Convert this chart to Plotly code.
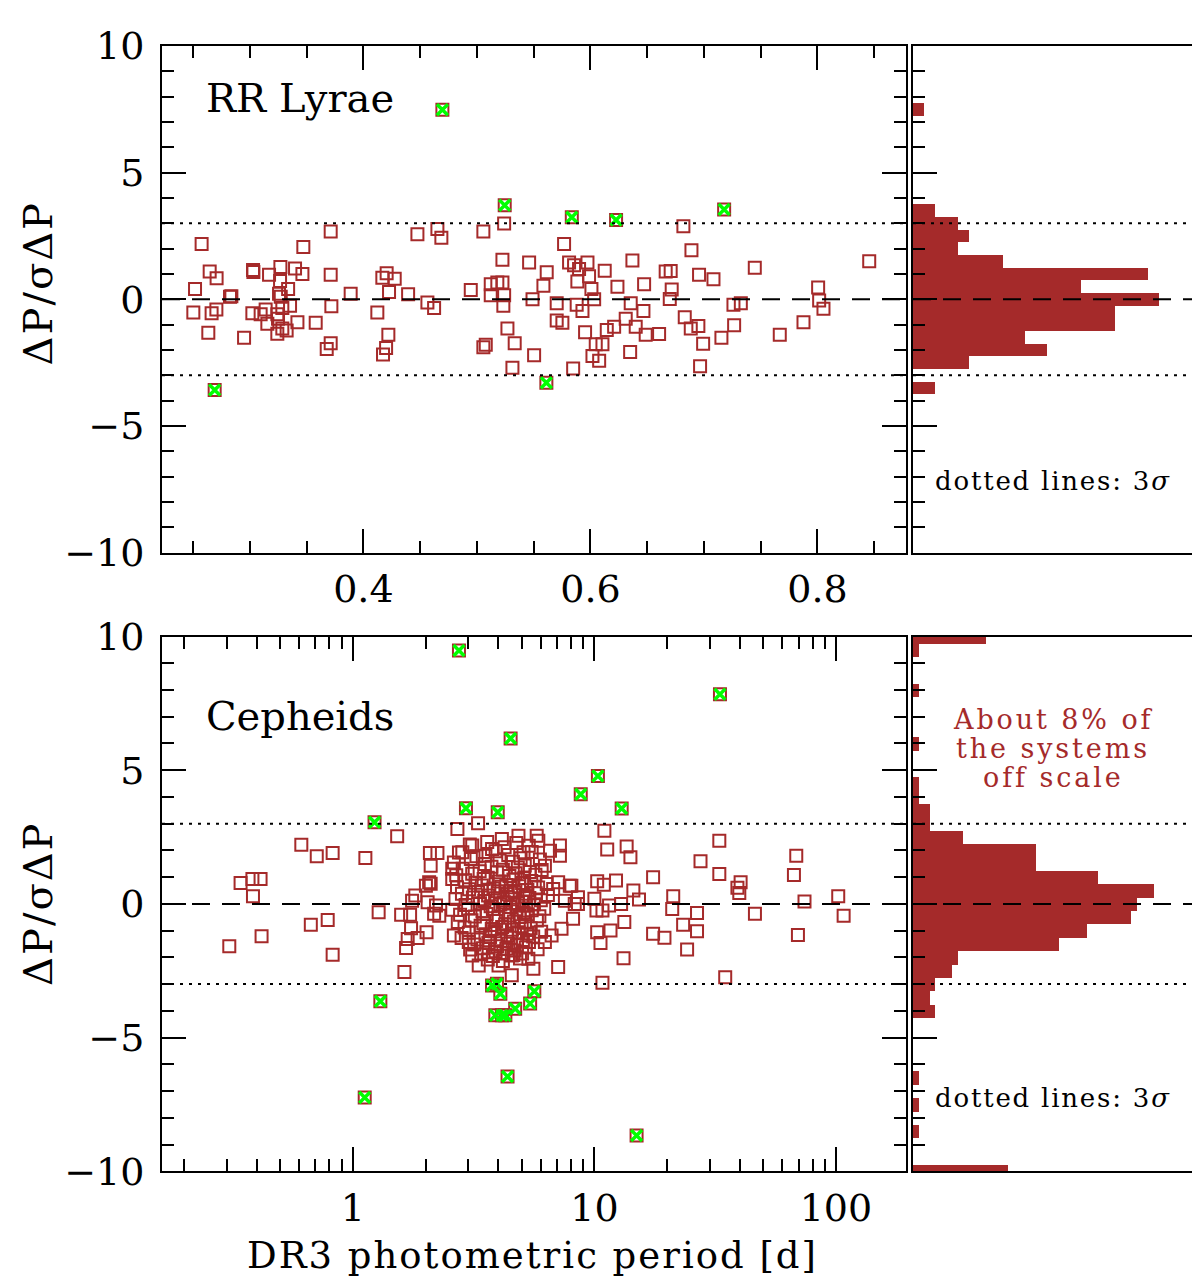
import plotly.graph_objects as go

# ---------------- data ----------------
# RR Lyrae: period [d], dP/sigma(dP)
rr_period = [
    0.2575, 0.2646, 0.2707, 0.2517, 0.2837, 0.2825, 0.2502, 0.2663, 0.2705, 0.2634,
    0.2949, 0.3028, 0.3031, 0.3169, 0.3269, 0.3266, 0.3398, 0.3463, 0.3337, 0.3257,
    0.3272, 0.3354, 0.3286, 0.3022, 0.3095, 0.3139, 0.3154, 0.3242, 0.3248, 0.3286,
    0.3242, 0.3324, 0.3419, 0.3580, 0.3712, 0.3471, 0.3712, 0.3718, 0.3677, 0.3712,
    0.3888, 0.4123, 0.4205, 0.4167, 0.4276, 0.4226, 0.4394, 0.4564, 0.4623, 0.4220,
    0.4200, 0.4173, 0.4476, 0.4652, 0.4687, 0.4946, 0.5057, 0.5240, 0.5225, 0.5460,
    0.5122, 0.5180, 0.5225, 0.5122, 0.5240, 0.5233, 0.5490, 0.5269, 0.5333, 0.5057,
    0.5078, 0.5313, 0.5504, 0.5615, 0.5586, 0.5768, 0.5812, 0.5856, 0.5974, 0.5900,
    0.5988, 0.5885, 0.6009, 0.6126, 0.6238, 0.6370, 0.6473, 0.5703, 0.5879, 0.5930,
    0.6033, 0.5703, 0.5753, 0.5953, 0.6144, 0.6209, 0.6311, 0.6355, 0.6467, 0.6399,
    0.6047, 0.6106, 0.6018, 0.6077, 0.6350, 0.5848, 0.6487, 0.6605, 0.6819, 0.6890,
    0.6663, 0.6707, 0.6957, 0.7084, 0.6716, 0.6699, 0.6831, 0.6884, 0.6951, 0.6993,
    0.7154, 0.7266, 0.6966, 0.7260, 0.7325, 0.7448, 0.7668, 0.7877, 0.8006, 0.8015,
    0.8053, 0.8456,
]
rr_dp = [
    2.18, 1.10, 0.83, 0.41, 0.12, 0.10, -0.52, -0.55, -0.40, -1.32,
    -1.52, 1.16, 1.08, 0.97, 1.28, 0.72, 1.22, 1.00, 0.41, 0.22,
    0.10, -0.25, -0.34, -0.55, -0.59, -0.40, -0.96, -0.59, -0.77, -1.15,
    -1.36, -1.23, -0.90, -0.92, 2.68, 2.07, 0.97, -0.27, -1.96, -1.73,
    0.22, -0.52, 1.03, 0.85, 0.81, 0.29, 0.20, -0.12, -0.34, -1.40,
    -1.92, -2.18, 2.57, 2.78, 2.43, 0.37, 2.68, 2.99, 1.56, 1.45,
    0.60, 0.66, 0.66, 0.16, 0.16, -0.25, 0.00, -1.15, -1.73, -1.89,
    -1.79, -2.70, -2.21, 1.07, 0.54, 2.18, 1.45, 1.35, 1.45, 1.20,
    0.91, 0.70, 0.41, 1.13, 0.50, 1.53, 0.60, -0.15, -0.21, -0.46,
    0.00, -0.83, -0.92, -1.30, -1.21, -1.08, -0.77, -0.15, -0.46, -1.08,
    -1.77, -1.77, -2.24, -2.42, -2.08, -2.73, -1.40, -1.37, 2.88, 1.94,
    1.10, 1.12, 0.97, 0.79, 0.39, 0.01, -0.71, -1.15, -1.05, -1.75,
    -1.52, -1.02, -2.64, -0.21, -0.15, 1.25, -1.40, -0.90, 0.47, -0.05,
    -0.37, 1.50,
]
rr_out_period = [0.4696, 0.5245, 0.5836, 0.6226, 0.7178, 0.2690, 0.5612]
rr_out_dp = [7.48, 3.71, 3.24, 3.13, 3.55, -3.58, -3.29]

rr_bins = [7.5, 3.5, 3.0, 2.5, 2.0, 1.5, 1.0, 0.5, 0.0, -0.5, -1.0, -1.5, -2.0, -2.5, -3.5]
rr_counts = [1, 2, 4, 5, 4, 8, 21, 15, 22, 18, 18, 10, 12, 5, 2]

# Cepheids, points outside the dense core
cep_period = [
    0.308, 0.343, 0.384, 0.415, 0.386, 0.419, 0.612, 0.709, 0.825, 1.127,
    1.526, 0.670, 0.787, 0.825, 1.279, 1.585, 1.726, 1.742, 1.687, 1.661,
    1.854, 2.019, 1.635, 1.759, 1.814, 2.007, 2.07, 2.085, 2.24, 2.10,
    2.04, 2.17, 2.71, 3.30, 2.10, 2.21, 2.58, 2.58, 3.12, 3.77,
    4.85, 5.77, 5.86, 7.2, 7.2, 7.91, 7.55, 8.29, 7.31, 7.08,
    5.59, 4.55, 3.32, 4.01, 2.28, 2.62, 3.02, 3.12, 3.65, 4.55,
    5.33, 6.24, 6.65, 7.08, 6.75, 6.24, 6.55, 4.14, 5.09, 3.54,
    2.84, 11.0, 11.3, 13.6, 14.1, 10.27, 10.94, 12.29, 14.5, 15.3,
    17.5, 21.2, 21.0, 8.03, 8.55, 8.55, 10.0, 10.2, 10.8, 11.5,
    12.9, 8.16, 10.27, 10.6, 11.66, 13.3, 13.2, 10.8, 17.5, 19.5,
    23.3, 26.6, 26.6, 24.2, 27.5, 32.9, 32.9, 39.1, 40.3, 39.8,
    46.2, 34.8, 68.5, 67.0, 74.1, 69.6, 102.2, 107.6,
]
cep_dp = [
    -1.58, 0.78, 0.93, 0.93, 0.29, -1.21, 2.21, 1.78, 1.90, 1.72,
    2.53, -0.78, -0.60, -1.90, -0.31, -0.41, -0.41, -0.91, -1.31, -1.65,
    -1.28, -1.06, -2.55, 0.12, 0.31, 0.68, 0.81, 1.90, 1.90, 1.43,
    0.06, -0.37, 2.80, 3.02, 0.75, -0.06, 1.31, 0.93, 2.18, 2.05,
    2.55, 2.55, 2.36, 2.18, 1.80, 0.68, 0.12, 0.00, -0.93, -2.36,
    -2.43, -2.67, -2.30, -2.30, -0.44, -1.18, -1.43, -1.93, -1.81, -1.93,
    -2.05, -1.43, -1.18, 0.81, 0.56, 1.43, 1.99, 2.43, 1.93, 1.80,
    1.93, 2.74, 2.03, 2.15, 1.74, 0.85, 0.72, 0.87, 0.50, 0.16,
    1.00, 0.29, -0.19, 0.68, 0.25, 0.00, 0.19, -0.25, -0.25, -0.06,
    0.00, -0.56, -1.06, -1.46, -1.00, -0.68, -2.03, -2.95, -1.12, -1.27,
    -0.78, -0.34, -1.02, -1.71, 1.59, 2.36, 1.12, 0.60, 0.81, 0.41,
    -0.37, -2.74, 1.80, 1.08, 0.09, -1.16, 0.29, -0.44,
]
# dense core around P ~ 3-6 d (estimated, too crowded to read one by one)
cep_core_period = [
    3.05, 3.6, 4.25, 4.75, 5.35,
    2.75, 3.25, 3.9, 4.4, 4.95, 5.5,
    2.62, 3.08, 3.52, 4.05, 4.6, 5.15, 5.95,
    2.85, 3.35, 3.75, 4.18, 4.82, 5.4, 6.05,
    2.68, 3.12, 3.62, 3.95, 4.45, 4.72, 5.12, 5.7,
    2.92, 3.22, 3.48, 4.02, 4.32, 4.62, 5.02, 5.48, 6.35,
    2.7, 3.03, 3.42, 3.82, 4.12, 4.52, 4.88, 5.28, 5.85,
    2.83, 3.3, 3.63, 3.98, 4.38, 4.68, 5.18, 5.72, 6.42,
    2.66, 3.14, 3.5, 3.88, 4.22, 4.58, 5.04, 5.38, 6.0,
    2.93, 3.36, 3.72, 4.08, 4.48, 4.83, 5.22, 5.62,
    2.58, 3.0, 3.44, 3.8, 4.3, 4.76, 5.1, 5.5, 6.2,
    2.78, 3.2, 3.58, 4.0, 4.42, 4.9, 5.3, 5.92,
    2.72, 3.1, 3.47, 3.92, 4.27, 4.64, 5.16, 5.78,
    2.9, 3.38, 3.76, 4.15, 4.56, 5.0, 5.45,
    3.02, 3.54, 3.86, 4.36, 4.86, 5.26, 6.02,
    2.82, 3.28, 3.7, 4.1, 4.5, 5.06, 5.58,
    3.18, 3.64, 3.96, 4.4, 4.78, 5.36,
    3.06, 3.46, 3.9, 4.32, 4.68, 5.2, 5.82,
    3.4, 3.8, 4.2, 4.62, 5.02,
    3.62, 4.18, 4.92,
]
cep_core_dp = [
    2.22, 2.31, 2.12, 2.28, 2.17,
    1.92, 1.78, 1.97, 1.83, 1.71, 1.94,
    1.55, 1.68, 1.49, 1.62, 1.58, 1.44, 1.66,
    1.31, 1.22, 1.39, 1.28, 1.36, 1.19, 1.27,
    1.07, 1.13, 0.98, 1.18, 1.04, 1.15, 0.96, 1.09,
    0.88, 0.79, 0.93, 0.84, 0.71, 0.91, 0.78, 0.86, 0.74,
    0.62, 0.55, 0.69, 0.58, 0.64, 0.49, 0.66, 0.52, 0.61,
    0.38, 0.44, 0.31, 0.47, 0.36, 0.42, 0.29, 0.40, 0.33,
    0.18, 0.24, 0.11, 0.21, 0.06, 0.17, 0.09, 0.22, 0.14,
    -0.04, 0.02, -0.09, -0.02, -0.12, 0.03, -0.07, -0.01,
    -0.22, -0.17, -0.28, -0.19, -0.31, -0.21, -0.33, -0.24, -0.18,
    -0.41, -0.47, -0.38, -0.52, -0.43, -0.49, -0.39, -0.46,
    -0.68, -0.61, -0.72, -0.64, -0.77, -0.66, -0.71, -0.62,
    -0.88, -0.82, -0.94, -0.86, -0.97, -0.84, -0.91,
    -1.08, -1.14, -1.02, -1.17, -1.06, -1.12, -1.04,
    -1.28, -1.33, -1.24, -1.38, -1.27, -1.35, -1.22,
    -1.52, -1.46, -1.58, -1.49, -1.55, -1.43,
    -1.71, -1.66, -1.77, -1.68, -1.74, -1.63, -1.70,
    -1.88, -1.95, -1.84, -1.91, -1.86,
    -2.08, -2.14, -2.04,
]
cep_out_period = [2.75, 33.1, 4.50, 10.34, 8.78, 2.94, 3.98, 12.97, 1.23, 1.30,
                  3.77, 3.95, 4.08, 3.89, 4.14, 4.28, 4.70, 5.42, 5.64, 1.12,
                  4.37, 14.95]
cep_out_dp = [9.48, 7.84, 6.19, 4.78, 4.10, 3.58, 3.43, 3.57, 3.05, -3.64,
              -3.05, -2.99, -3.36, -4.17, -4.17, -4.17, -3.92, -3.73, -3.27, -7.24,
              -6.46, -8.66]

cep_bins = [10.0, 9.5, 8.0, 6.0, 4.5, 4.0, 3.5, 3.0, 2.5, 2.0, 1.5, 1.0, 0.5, 0.0,
            -0.5, -1.0, -1.5, -2.0, -2.5, -3.0, -3.5, -4.0, -6.5, -7.5, -8.5, -10.0]
cep_counts = [13, 1, 1, 1, 1, 1, 3, 3, 9, 22, 22, 33, 43, 40,
              39, 31, 26, 8, 7, 4, 3, 4, 1, 1, 1, 17]

# ---------------- styling ----------------
BROWN = "#a52a2a"
FONT = "DejaVu Serif"
W, H = 1200, 1285


def px(x):
    # page x position (pixels) -> paper fraction (page is shifted ~8 px right)
    return (x - 8) / W


def py(y):
    # page y position (pixels) -> paper fraction (paper lands on rows 29..1273)
    return 1 - (y - 29) / 1244


x_scatter = [px(162), px(906)]
x_hist = [px(913), px(1193)]
y_top = [py(553), py(45)]
y_bot = [py(1173), py(637)]

fig = go.Figure()


def add_panel(prd, dp, o_prd, o_dp, bins, counts, xa, ya, xh, yh):
    sq = dict(symbol="square-open", size=12, color=BROWN, line=dict(width=2, color=BROWN))
    fig.add_trace(go.Scatter(x=prd, y=dp, mode="markers", xaxis=xa, yaxis=ya,
                             showlegend=False, marker=sq))
    fig.add_trace(go.Scatter(x=o_prd, y=o_dp, mode="markers", xaxis=xa, yaxis=ya,
                             showlegend=False, marker=sq))
    fig.add_trace(go.Scatter(
        x=o_prd, y=o_dp, mode="markers", xaxis=xa, yaxis=ya, showlegend=False,
        marker=dict(symbol="x-thin-open", size=11, color="#00ff00",
                    line=dict(width=3.5, color="#00ff00")),
    ))
    fig.add_trace(go.Bar(
        x=counts, y=bins, orientation="h", width=0.5, xaxis=xh, yaxis=yh,
        marker=dict(color=BROWN, line=dict(width=0)), showlegend=False,
    ))


add_panel(rr_period, rr_dp, rr_out_period, rr_out_dp, rr_bins, rr_counts, "x", "y", "x2", "y2")
add_panel(cep_period + cep_core_period, cep_dp + cep_core_dp, cep_out_period, cep_out_dp,
          cep_bins, cep_counts, "x3", "y3", "x4", "y4")

tickfont = dict(family=FONT, size=38, color="black")
common = dict(showgrid=False, zeroline=False, showline=True, linecolor="black", linewidth=2)

yscatter = dict(
    common, range=[-10, 10], tickmode="array", tickvals=[-10, -5, 0, 5, 10],
    ticks="inside", ticklen=24, tickwidth=2, tickcolor="black", mirror="ticks",
    tickfont=tickfont, ticklabelstandoff=8,
    minor=dict(dtick=1, ticks="inside", ticklen=12, tickwidth=2, tickcolor="black"),
)
yhist = dict(
    common, range=[-10, 10], tickmode="array", tickvals=[-10, -5, 0, 5, 10],
    ticks="inside", ticklen=24, tickwidth=2, tickcolor="black", mirror=True,
    showticklabels=False,
    minor=dict(dtick=1, ticks="inside", ticklen=12, tickwidth=2, tickcolor="black"),
)
xhist = dict(common, ticks="", showticklabels=False, mirror=True)

log_minor = [0.2, 0.3, 0.4, 0.5, 0.6, 0.7, 0.8, 0.9,
             2, 3, 4, 5, 6, 7, 8, 9, 20, 30, 40, 50, 60, 70, 80, 90, 200]

fig.update_layout(
    width=W, height=H, margin=dict(l=0, r=0, t=0, b=0),
    paper_bgcolor="white", plot_bgcolor="white", bargap=0,
    xaxis=dict(
        common, domain=x_scatter, anchor="y", range=[0.2226, 0.878],
        tickmode="array", tickvals=[0.4, 0.6, 0.8], ticktext=["0.4", "0.6", "0.8"],
        ticks="inside", ticklen=24, tickwidth=2, tickcolor="black", mirror="ticks",
        tickfont=tickfont, ticklabelstandoff=2,
        minor=dict(dtick=0.05, tick0=0, ticks="inside", ticklen=12, tickwidth=2, tickcolor="black"),
    ),
    yaxis=dict(yscatter, domain=y_top, anchor="x"),
    xaxis2=dict(xhist, domain=x_hist, anchor="y2", range=[0, 25]),
    yaxis2=dict(yhist, domain=y_top, anchor="x2"),
    xaxis3=dict(
        common, domain=x_scatter, anchor="y3", type="log", range=[-0.79, 2.29],
        tickmode="array", tickvals=[1, 10, 100], ticktext=["1", "10", "100"],
        ticks="inside", ticklen=24, tickwidth=2, tickcolor="black", mirror="ticks",
        tickfont=tickfont, ticklabelstandoff=2,
        minor=dict(tickmode="array", tickvals=log_minor, ticks="inside", ticklen=12,
                   tickwidth=2, tickcolor="black"),
    ),
    yaxis3=dict(yscatter, domain=y_bot, anchor="x3"),
    xaxis4=dict(xhist, domain=x_hist, anchor="y4", range=[0, 50]),
    yaxis4=dict(yhist, domain=y_bot, anchor="x4"),
)

# reference lines: dashed zero, dotted 3 sigma
for xr, yr in [("x", "y"), ("x2", "y2"), ("x3", "y3"), ("x4", "y4")]:
    fig.add_shape(type="line", xref=xr + " domain", yref=yr, x0=0, x1=1, y0=0, y1=0,
                  line=dict(color="black", width=2, dash="18px,12px"))
    for lvl in (3, -3):
        fig.add_shape(type="line", xref=xr + " domain", yref=yr, x0=0, x1=1, y0=lvl, y1=lvl,
                      line=dict(color="black", width=2, dash="3px,6px"))


def label(x, y, text, size, color="black", angle=0, anchor="center", spacing=0):
    if spacing:
        text = f'<span style="letter-spacing:{spacing}px">{text}</span>'
    fig.add_annotation(x=px(x), y=py(y), xref="paper", yref="paper", text=text,
                       showarrow=False, textangle=angle, xanchor=anchor, yanchor="middle",
                       borderpad=0, font=dict(family=FONT, size=size, color=color))


label(205, 97, "RR Lyrae", 40, anchor="left")
label(205, 717, "Cepheids", 40, anchor="left")
for yc in (283, 905):
    label(38, yc, "ΔP/σΔP", 40, angle=-90, spacing=2)
label(532, 1257, "DR3 photometric period [d]", 37, spacing=2)
for yc in (481, 1100):
    label(1053, yc, "dotted lines: 3<i>σ</i>", 26, spacing=1.8)
for yc, line in zip((720, 749, 778), ("About 8% of", "the systems", "off scale")):
    label(1053, yc, line, 27, color=BROWN, spacing=2.9)

fig.write_html("out.html")
